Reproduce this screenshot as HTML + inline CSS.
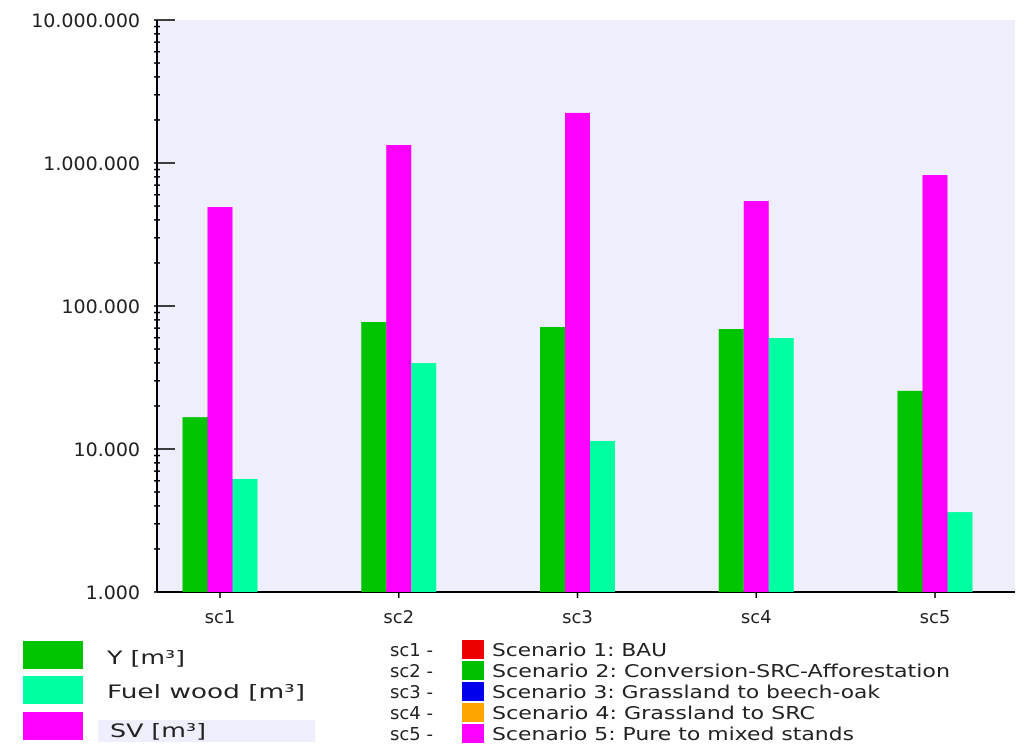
<!DOCTYPE html>
<html><head><meta charset="utf-8"><style>
body{margin:0;background:#fff;}
svg{display:block;font-family:"DejaVu Sans","Liberation Sans",sans-serif;}
</style></head><body>
<svg id="c" width="1024" height="754">
<rect x="157" y="20" width="858" height="572" fill="#eeeefc"/>
<g id="axes"></g><g id="bars"></g>
<g font-size="19" fill="#222">
<rect x="23" y="641" width="60" height="28" fill="#00c400"/>
<text x="107" y="664" textLength="78" lengthAdjust="spacingAndGlyphs">Y [m³]</text>
<rect x="23" y="676" width="60" height="28" fill="#00ffa0"/>
<text x="107" y="698" textLength="198" lengthAdjust="spacingAndGlyphs">Fuel wood [m³]</text>
<rect x="98" y="720" width="217" height="22" fill="#eeeefc"/>
<rect x="23" y="712" width="60" height="28" fill="#ff00ff"/>
<text x="110" y="737" textLength="96" lengthAdjust="spacingAndGlyphs">SV [m³]</text>
</g>
<g font-size="18" fill="#222">
<text x="390" y="656">sc1 -</text><rect x="462" y="640" width="22" height="19" fill="#ee0000"/><text x="492" y="656" textLength="175" lengthAdjust="spacingAndGlyphs">Scenario 1: BAU</text>
<text x="390" y="677">sc2 -</text><rect x="462" y="661" width="22" height="19" fill="#00c000"/><text x="492" y="677" textLength="458" lengthAdjust="spacingAndGlyphs">Scenario 2: Conversion-SRC-Afforestation</text>
<text x="390" y="698">sc3 -</text><rect x="462" y="682" width="22" height="19" fill="#0000ee"/><text x="492" y="698" textLength="388" lengthAdjust="spacingAndGlyphs">Scenario 3: Grassland to beech-oak</text>
<text x="390" y="719">sc4 -</text><rect x="462" y="703" width="22" height="19" fill="#ffa500"/><text x="492" y="719" textLength="323" lengthAdjust="spacingAndGlyphs">Scenario 4: Grassland to SRC</text>
<text x="390" y="740">sc5 -</text><rect x="462" y="724" width="22" height="19" fill="#ff00ff"/><text x="492" y="740" textLength="362" lengthAdjust="spacingAndGlyphs">Scenario 5: Pure to mixed stands</text>
</g>
</svg>
<script>
const categories=["sc1","sc2","sc3","sc4","sc5"];
const yValues=[16700,77300,71300,69000,25500];
const svValues=[492000,1336000,2240000,542000,824000];
const fuelValues=[6170,39900,11380,59700,3620];
const tickValues=[1000,10000,100000,1000000,10000000];
const tickLabels=["1.000","10.000","100.000","1.000.000","10.000.000"];
const NS="http://www.w3.org/2000/svg";
const y0=592,dec=143,ax=157;
function yScale(v){return y0-(Math.log10(v)-3)*dec;}
function xScale(i){return 220+i*178.75;}
function mk(t,a,p){const e=document.createElementNS(NS,t);for(const k in a)e.setAttribute(k,a[k]);p.appendChild(e);return e;}
const axes=document.getElementById("axes"),bars=document.getElementById("bars");
const series=[[yValues,"#00c400",-37.5,"bar-y"],[svValues,"#ff00ff",-12.5,"bar-sv"],[fuelValues,"#00ffa0",12.5,"bar-fuel"]];
series.forEach(s=>{s[0].forEach((v,i)=>{
 const r=mk("rect",{x:xScale(i)+s[2],y:yScale(v),width:25,height:y0-yScale(v),fill:s[1]},bars);
 
 
});});
mk("line",{x1:ax,y1:20,x2:ax,y2:y0,stroke:"#000","stroke-width":2},axes);
mk("line",{x1:ax,y1:y0,x2:1015,y2:y0,stroke:"#000","stroke-width":2},axes);
tickValues.forEach((v,i)=>{
 const y=yScale(v);
 mk("line",{x1:ax-3,y1:y,x2:ax+18,y2:y,stroke:"#000","stroke-width":1.5},axes);
 const t=mk("text",{x:140,y:y+7,"text-anchor":"end","font-size":19,fill:"#222"},axes);
 t.textContent=tickLabels[i];
 
 
 if(i<tickValues.length-1){for(let m=2;m<=9;m++){const yy=yScale(v*m);mk("line",{x1:ax-3,y1:yy,x2:ax+3,y2:yy,stroke:"#000","stroke-width":1.5},axes);}}
});
categories.forEach((c,i)=>{
 const x=xScale(i);
 mk("line",{x1:x,y1:y0,x2:x,y2:y0+6,stroke:"#000","stroke-width":1.5},axes);
 const t=mk("text",{x:x,y:y0+31,"text-anchor":"middle","font-size":18,fill:"#222"},axes);
 t.textContent=c;
 
 
});
</script>
</body></html>
